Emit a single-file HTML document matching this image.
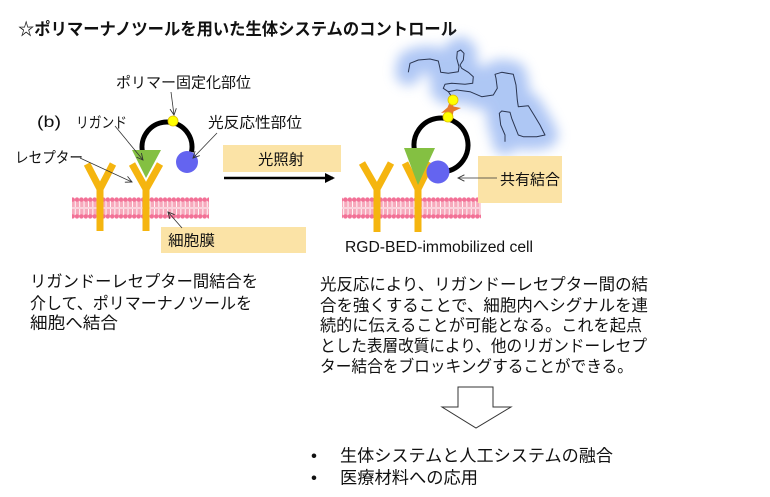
<!DOCTYPE html>
<html><head><meta charset="utf-8">
<style>
html,body{margin:0;padding:0;background:#fff;}
svg{display:block;}
text{font-family:"Liberation Sans","Noto Sans CJK JP",sans-serif;fill:#111;}
</style></head>
<body>
<svg width="770" height="497" viewBox="0 0 770 497" xmlns="http://www.w3.org/2000/svg">
<defs>
  <pattern id="mem" x="0" y="197" width="4.4" height="22" patternUnits="userSpaceOnUse">
    <rect x="0" y="3" width="4.4" height="16" fill="#f7a9bc"/>
    <rect x="0" y="4" width="0.9" height="6" fill="#fff"/>
    <rect x="0" y="12" width="0.9" height="6" fill="#fff"/>
    <rect x="0" y="10.3" width="4.4" height="1.4" fill="#fde4ea"/>
    <circle cx="2.2" cy="2.6" r="2.2" fill="#f27096"/>
    <circle cx="2.2" cy="19.4" r="2.2" fill="#f27096"/>
  </pattern>
  <marker id="open" viewBox="0 0 10 10" refX="9" refY="5" markerWidth="8" markerHeight="8" orient="auto" markerUnits="userSpaceOnUse">
    <polyline points="1,1 9,5 1,9" fill="none" stroke="#333" stroke-width="1.1"/>
  </marker>
  <marker id="solid" viewBox="0 0 10 10" refX="8" refY="5" markerWidth="4" markerHeight="4" orient="auto">
    <polygon points="0,0 10,5 0,10" fill="#000"/>
  </marker>
  <filter id="blur" x="-30%" y="-30%" width="160%" height="160%">
    <feGaussianBlur stdDeviation="6"/>
  </filter>
</defs>

<!-- Title -->
<text x="18" y="35" font-size="17" font-weight="bold" textLength="439" lengthAdjust="spacingAndGlyphs">☆ポリマーナノツールを用いた生体システムのコントロール</text>

<!-- ===== Left figure ===== -->
<rect x="72" y="197" width="137" height="22" fill="url(#mem)"/>
<g stroke="#f5b50f" stroke-width="7" fill="none" stroke-linecap="butt">
  <polyline points="87,164 100,189 113,164"/>
  <line x1="100" y1="186" x2="100" y2="231"/>
  <polyline points="132,164 146,189 160,164"/>
  <line x1="146" y1="186" x2="146" y2="231"/>
</g>
<path d="M142.5,152 A25,25 0 1 1 191.5,152" fill="none" stroke="#000" stroke-width="5"/>
<polygon points="132,150 161,150 146,178" fill="#84c042"/>
<circle cx="187" cy="162" r="11" fill="#6464f0"/>
<circle cx="173" cy="121" r="5" fill="#ffff00" stroke="#e0c000" stroke-width="0.8"/>

<rect x="223" y="145" width="118" height="27" fill="#fbe3a6"/>
<rect x="161" y="227" width="145" height="26" fill="#fbe3a6"/>

<text x="116" y="87.5" font-size="15" textLength="135" lengthAdjust="spacingAndGlyphs">ポリマー固定化部位</text>
<text x="37" y="127" font-size="16" textLength="24" lengthAdjust="spacingAndGlyphs">(b)</text>
<text x="76" y="127.5" font-size="15" textLength="51" lengthAdjust="spacingAndGlyphs">リガンド</text>
<text x="208" y="127.5" font-size="15" textLength="94" lengthAdjust="spacingAndGlyphs">光反応性部位</text>
<text x="15" y="162.5" font-size="15" textLength="68" lengthAdjust="spacingAndGlyphs">レセプター</text>
<text x="258" y="164.5" font-size="15" textLength="46" lengthAdjust="spacingAndGlyphs">光照射</text>
<text x="168" y="245.5" font-size="15" textLength="47" lengthAdjust="spacingAndGlyphs">細胞膜</text>

<g stroke="#333" stroke-width="0.8" fill="none" marker-end="url(#open)">
  <line x1="171" y1="92" x2="174" y2="115"/>
  <line x1="115" y1="126" x2="143" y2="160"/>
  <line x1="217" y1="133" x2="193" y2="158"/>
  <line x1="80" y1="158" x2="132" y2="182"/>
  <line x1="182" y1="228" x2="168" y2="212"/>
</g>

<line x1="224" y1="178" x2="333" y2="178" stroke="#000" stroke-width="2.5" marker-end="url(#solid)"/>

<!-- ===== Right figure ===== -->
<g filter="url(#blur)" opacity="0.6">
  <polyline fill="none" stroke="#7aa2ee" stroke-width="26" stroke-linejoin="round" stroke-linecap="round"
    points="408.3,72.3 410,63.3 418.3,60 430,59 438.3,61 440,68.3 440.7,72.3 448.3,73.3 458.3,71.7 459,66.7 456.7,58.3 457.3,51.7 460.7,50 464,53.3 463.3,60 460,65 461.7,68.3 468.3,72.3 473.3,76.7 472.7,83.3 465,84.3 451.7,83.3 445,84.3 443.3,88.3 448.3,91.7 456.7,90 470,91.7 481.7,96.7 493.3,95 497.3,88.3 496,78.3 495,74.3 501.7,72.3 513.3,74.3 516,85 517.3,100 518.3,106.7 528.3,105.7 534,115 540,125 545,135 536.7,136.7 523.3,136.7 518.3,135 515,126.7 511.7,118.3 510,112.3 501.7,111 499.3,113.3 500.7,125 505,135 505,141.7"/>
</g>
<polyline fill="none" stroke="#2a3550" stroke-width="1" stroke-linejoin="round"
  points="408.3,72.3 410,63.3 418.3,60 430,59 438.3,61 440,68.3 440.7,72.3 448.3,73.3 458.3,71.7 459,66.7 456.7,58.3 457.3,51.7 460.7,50 464,53.3 463.3,60 460,65 461.7,68.3 468.3,72.3 473.3,76.7 472.7,83.3 465,84.3 451.7,83.3 445,84.3 443.3,88.3 448.3,91.7 456.7,90 470,91.7 481.7,96.7 493.3,95 497.3,88.3 496,78.3 495,74.3 501.7,72.3 513.3,74.3 516,85 517.3,100 518.3,106.7 528.3,105.7 534,115 540,125 545,135 536.7,136.7 523.3,136.7 518.3,135 515,126.7 511.7,118.3 510,112.3 501.7,111 499.3,113.3 500.7,125 505,135 505,141.7"/>
<line x1="448" y1="91" x2="453" y2="99" stroke="#2a3550" stroke-width="1"/>

<rect x="342" y="197" width="139" height="22" fill="url(#mem)"/>
<g stroke="#f5b50f" stroke-width="7" fill="none" stroke-linecap="butt">
  <polyline points="362,163 377,189 391,163"/>
  <line x1="377" y1="186" x2="377" y2="232"/>
  <polyline points="405,163 418,189 431,163"/>
  <line x1="418" y1="186" x2="418" y2="232"/>
</g>
<path d="M414.4,149.7 A27,27 0 1 1 445.7,171.6" fill="none" stroke="#000" stroke-width="5"/>
<polygon points="404,148 435,148 418,185" fill="#84c042"/>
<circle cx="438" cy="172" r="11.5" fill="#6464f0"/>
<polygon points="451,99 453.5,106.5 461,108 453.5,111.5 452,119 448.5,112 441,113 447.5,107.5" fill="#e57a2c"/>
<circle cx="448" cy="117" r="5" fill="#ffff00" stroke="#e0c000" stroke-width="0.8"/>
<circle cx="453" cy="100" r="5" fill="#ffff00" stroke="#e0c000" stroke-width="0.8"/>

<rect x="478" y="156" width="84" height="47" fill="#fbe3a6"/>
<line x1="497" y1="178" x2="458" y2="178" stroke="#333" stroke-width="0.8" marker-end="url(#open)"/>
<text x="500" y="184.5" font-size="15" textLength="60" lengthAdjust="spacingAndGlyphs">共有結合</text>
<text x="345" y="252" font-size="15.5" textLength="188" lengthAdjust="spacingAndGlyphs">RGD-BED-immobilized cell</text>

<g font-size="16.5">
  <text x="30" y="287" textLength="228" lengthAdjust="spacingAndGlyphs">リガンドーレセプター間結合を</text>
  <text x="30" y="309" textLength="222" lengthAdjust="spacingAndGlyphs">介して、ポリマーナノツールを</text>
  <text x="30" y="328.5" textLength="88" lengthAdjust="spacingAndGlyphs">細胞へ結合</text>

  <text x="320" y="290" textLength="328" lengthAdjust="spacingAndGlyphs">光反応により、リガンドーレセプター間の結</text>
  <text x="320" y="311" textLength="328" lengthAdjust="spacingAndGlyphs">合を強くすることで、細胞内へシグナルを連</text>
  <text x="320" y="331" textLength="322" lengthAdjust="spacingAndGlyphs">続的に伝えることが可能となる。これを起点</text>
  <text x="320" y="351.5" textLength="327" lengthAdjust="spacingAndGlyphs">とした表層改質により、他のリガンドーレセプ</text>
  <text x="320" y="372" textLength="313" lengthAdjust="spacingAndGlyphs">ター結合をブロッキングすることができる。</text>
</g>

<polygon points="458,387 493,387 493,407 511,407 476,428 442,407 458,407" fill="#fff" stroke="#333" stroke-width="1"/>

<g font-size="17">
  <text x="311" y="461.5">•</text>
  <text x="340" y="461.5" textLength="273" lengthAdjust="spacingAndGlyphs">生体システムと人工システムの融合</text>
  <text x="311" y="483.5">•</text>
  <text x="340" y="483.5" textLength="138" lengthAdjust="spacingAndGlyphs">医療材料への応用</text>
</g>
</svg>
</body></html>
